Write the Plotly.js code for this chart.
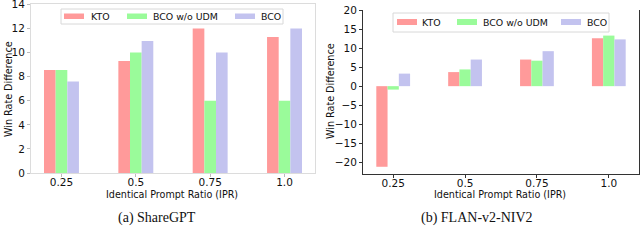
<!DOCTYPE html>
<html>
<head>
<meta charset="utf-8">
<script src="https://cdn.plot.ly/plotly-3.0.1.min.js"></script>
<style>
html,body{margin:0;padding:0;background:#fff;}
#chart{width:640px;height:251px;}
</style>
</head>
<body>
<div id="chart"></div>
<script>
// ---- data ----
const categories = ['0.25', '0.5', '0.75', '1.0'];
const seriesNames = ['KTO', 'BCO w/o UDM', 'BCO'];
const seriesColors = ['#ff9a9a', '#9afb9a', '#c3c3ef'];

// (a) ShareGPT
const shareKTO   = [8.55, 9.3, 12.0, 11.3];
const shareNoUDM = [8.55, 10.0, 6.0, 6.0];
const shareBCO   = [7.6, 10.95, 10.0, 12.0];

// (b) FLAN-v2-NIV2
const flanKTO   = [-21.2, 3.7, 7.0, 12.6];
const flanNoUDM = [-0.9, 4.4, 6.7, 13.3];
const flanBCO   = [3.3, 7.0, 9.2, 12.3];

const shareTicks = [0, 2, 4, 6, 8, 10, 12, 14];
const flanTicks = [-20, -15, -10, -5, 0, 5, 10, 15, 20];

const yTitle = 'Win Rate Difference';
const xTitle = 'Identical Prompt Ratio (IPR)';
const captions = ['(a) ShareGPT', '(b) FLAN-v2-NIV2'];

// ---- helpers ----
const W = 640, H = 251;
const px = x => x / W;
const py = y => 1 - y / H;

const shareSeries = [shareKTO, shareNoUDM, shareBCO];
const flanSeries = [flanKTO, flanNoUDM, flanBCO];

const traces = [];
shareSeries.forEach((vals, i) => traces.push({
  type: 'bar', x: categories, y: vals, name: seriesNames[i],
  marker: {color: seriesColors[i], line: {width: 0}},
  xaxis: 'x', yaxis: 'y', showlegend: false, hoverinfo: 'skip'
}));
flanSeries.forEach((vals, i) => traces.push({
  type: 'bar', x: categories, y: vals, name: seriesNames[i],
  marker: {color: seriesColors[i], line: {width: 0}},
  xaxis: 'x2', yaxis: 'y2', showlegend: false, hoverinfo: 'skip'
}));

const tickFont = {family: 'DejaVu Sans', size: 10.5, color: '#111'};
const lightLine = '#dcdcdc';
const darkLine = '#333';
const minus = v => (v < 0 ? '\u2212' + Math.abs(v) : String(v));

const layout = {
  width: W, height: H,
  margin: {l: 0, r: 0, t: 0, b: 0},
  paper_bgcolor: '#fff', plot_bgcolor: '#fff',
  barmode: 'group', bargap: 0.53, bargroupgap: 0,
  showlegend: false,
  xaxis: {
    domain: [px(31), px(315)], anchor: 'y', type: 'category',
    range: [-0.41, 3.41], showgrid: false, zeroline: false,
    showline: true, linecolor: lightLine, linewidth: 1, mirror: true,
    ticks: 'outside', ticklen: 3, tickcolor: '#bbb', tickfont: tickFont,
    ticklabelstandoff: -4
  },
  yaxis: {
    domain: [py(173), py(4)], anchor: 'x', range: [0, 14.03],
    tickvals: shareTicks, ticktext: shareTicks.map(minus), showgrid: false, zeroline: false,
    showline: true, linecolor: lightLine, linewidth: 1, mirror: true,
    ticks: 'outside', ticklen: 3, tickcolor: '#bbb', tickfont: tickFont,
    ticklabeloverflow: 'allow'
  },
  xaxis2: {
    domain: [px(363), px(639)], anchor: 'y2', type: 'category',
    range: [-0.42, 3.42], showgrid: false, zeroline: false,
    showline: true, linecolor: darkLine, linewidth: 1, mirror: false,
    ticks: 'outside', ticklen: 3, tickcolor: darkLine, tickfont: tickFont,
    ticklabelstandoff: -4
  },
  yaxis2: {
    domain: [py(174), py(10)], anchor: 'x2', range: [-23.1, 20.03],
    tickvals: flanTicks, ticktext: flanTicks.map(minus),
    showgrid: false, zeroline: false,
    showline: true, linecolor: darkLine, linewidth: 1, mirror: true,
    ticks: 'outside', ticklen: 3, tickcolor: darkLine, tickfont: tickFont,
    ticklabeloverflow: 'allow'
  },
  shapes: [],
  annotations: []
};

const axFont = {family: 'DejaVu Sans', size: 9.6, color: '#111'};
// axis titles
layout.annotations.push(
  {text: yTitle, x: px(8), y: py(89), xref: 'paper', yref: 'paper', textangle: -90, showarrow: false, font: axFont, xanchor: 'center', yanchor: 'middle'},
  {text: yTitle, x: px(330), y: py(91), xref: 'paper', yref: 'paper', textangle: -90, showarrow: false, font: axFont, xanchor: 'center', yanchor: 'middle'},
  {text: xTitle, x: px(172), y: py(194), xref: 'paper', yref: 'paper', showarrow: false, font: axFont, xanchor: 'center', yanchor: 'middle'},
  {text: xTitle, x: px(500), y: py(194), xref: 'paper', yref: 'paper', showarrow: false, font: axFont, xanchor: 'center', yanchor: 'middle'},
  {text: captions[0], x: px(157), y: py(218), xref: 'paper', yref: 'paper', showarrow: false, font: {family: 'Liberation Serif', size: 14, color: '#111'}, xanchor: 'center', yanchor: 'middle'},
  {text: captions[1], x: px(477), y: py(218), xref: 'paper', yref: 'paper', showarrow: false, font: {family: 'Liberation Serif', size: 14, color: '#111'}, xanchor: 'center', yanchor: 'middle'}
);

// legends (drawn like matplotlib legends)
function addLegend(box, swatchX, textX, swY, textY) {
  layout.shapes.push({type: 'rect', xref: 'paper', yref: 'paper',
    x0: px(box[0]), x1: px(box[1]), y0: py(box[3]), y1: py(box[2]),
    line: {color: '#d8d8d8', width: 1}, fillcolor: 'rgba(255,255,255,0.9)', layer: 'above'});
  seriesNames.forEach((name, i) => {
    layout.shapes.push({type: 'rect', xref: 'paper', yref: 'paper',
      x0: px(swatchX[i]), x1: px(swatchX[i] + 20), y0: py(swY[1]), y1: py(swY[0]),
      line: {width: 0}, fillcolor: seriesColors[i], layer: 'above'});
    layout.annotations.push({text: name, x: px(textX[i]), y: py(textY), xref: 'paper', yref: 'paper',
      showarrow: false, xanchor: 'left', yanchor: 'middle',
      font: {family: 'DejaVu Sans', size: 9.4, color: '#111'}});
  });
}
addLegend([61, 283, 9, 24], [64, 127, 235], [89, 151, 259], [13.5, 19], 16.5);
addLegend([393, 609, 13, 32], [397, 457, 561], [420, 481, 585], [19, 25], 22);

Plotly.newPlot('chart', traces, layout, {staticPlot: true, displayModeBar: false});
</script>
</body>
</html>
